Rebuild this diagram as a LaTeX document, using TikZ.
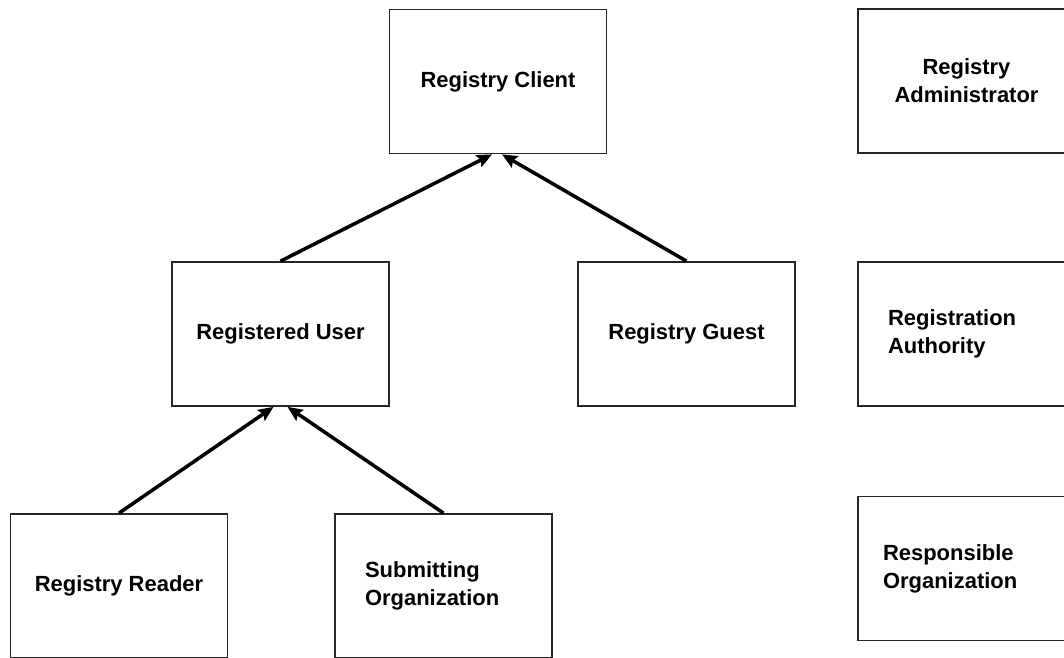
\documentclass[tikz,border=0pt]{standalone}
\usepackage{fontspec}
\setmainfont{Liberation Sans}
\usetikzlibrary{arrows.meta}

\begin{document}
\begin{tikzpicture}[x=0.02cm,y=-0.02cm,
  role/.style={draw=black!85, line width=1pt, minimum width=4.34cm, minimum height=2.88cm,
    inner sep=0pt, font=\fontsize{12.5}{16}\selectfont\bfseries},
  roleleft/.style={role, inner xsep=0.6cm, text width=3.14cm, align=left},
  isa/.style={-{Stealth[length=0.3cm,width=0.26cm,inset=0.05cm]}, line width=2pt}]
\useasboundingbox (0,0) rectangle (1064,658);
\clip (0,0) rectangle (1064,658);
%TOP
\node[role] (client) at (498,81.5) {Registry Client};
\node[role, align=center] (admin) at (966.5,81) {Registry\\Administrator};
%MIDDLE
\node[role] (user) at (280.5,334) {Registered User};
\node[role] (guest) at (686.5,334) {Registry Guest};
\node[roleleft] (authority) at (966.5,334) {Registration\\Authority};
%BOT
\node[role] (reader) at (119,586) {Registry Reader};
\node[roleleft] (submitter) at (443.5,586) {Submitting\\Organization};
\node[roleleft, inner xsep=0.5cm, text width=3.34cm] (responsible) at (966.5,568.5) {Responsible\\Organization};
% Generalization
\draw[isa] (user.north) -- ([xshift=-0.12cm]client.south);
\draw[isa] (guest.north) -- ([xshift=0.08cm]client.south);
\draw[isa] (reader.north) -- ([xshift=-0.14cm]user.south);
\draw[isa] (submitter.north) -- ([xshift=0.14cm]user.south);
\end{tikzpicture}
\end{document}
